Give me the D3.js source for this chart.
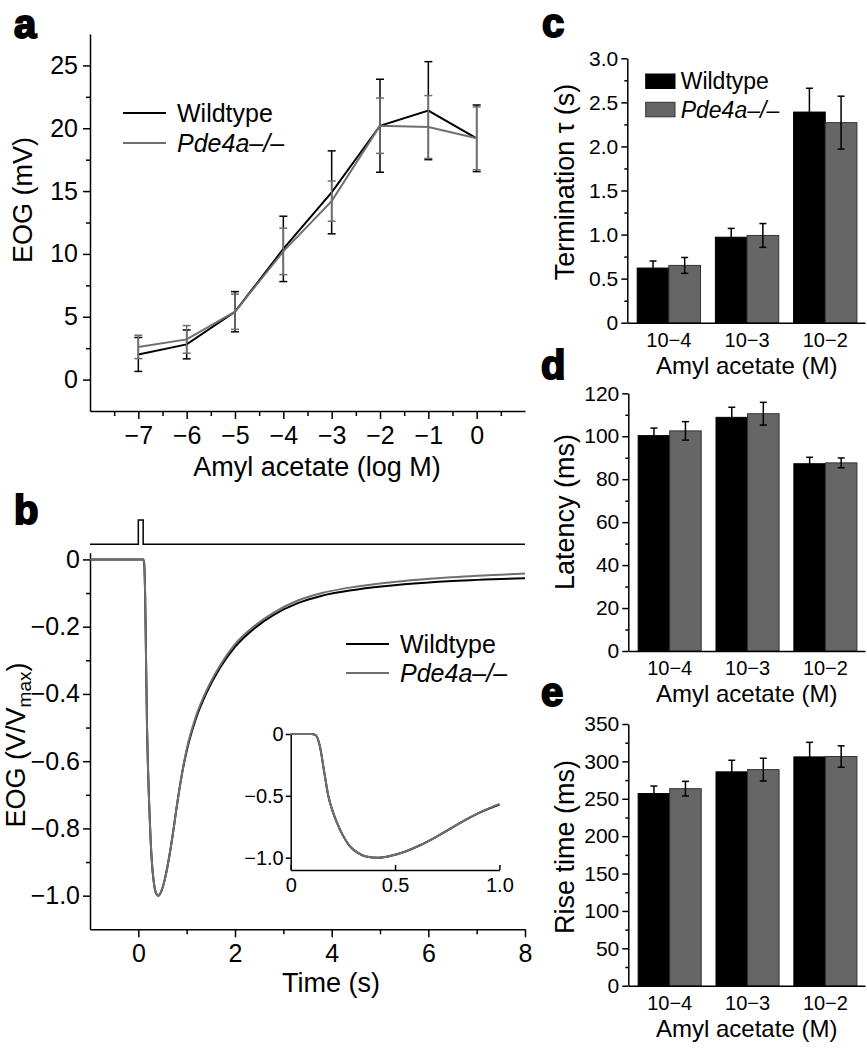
<!DOCTYPE html>
<html><head><meta charset="utf-8">
<script src="https://cdn.jsdelivr.net/npm/d3@7"></script>
<style>
body{margin:0;background:#fff;}
svg text{font-family:"Liberation Sans",Arial,Helvetica,sans-serif;fill:#000;}
</style></head><body>
<svg id="fig" width="867" height="1050"></svg>
<script>
// ---------- Panel a data ----------
const concLog = [-7, -6, -5, -4, -3, -2, -1, 0];
const eogWT = [2.0, 2.8, 5.4, 10.4, 14.9, 20.2, 21.4, 19.2];
const eogWTerr = [1.35, 1.15, 1.6, 2.6, 3.3, 3.7, 3.9, 2.65];
const eogKO = [2.6, 3.2, 5.4, 10.2, 14.2, 20.2, 20.1, 19.2];
const eogKOerr = [0.93, 1.1, 1.4, 1.85, 1.6, 2.2, 2.5, 2.5];
const aYTicks = [0, 5, 10, 15, 20, 25];
const aYMinor = [2.5, 7.5, 12.5, 17.5, 22.5];
const aXMinor = [-7.5, -6.5, -5.5, -4.5, -3.5, -2.5, -1.5, -0.5, 0.5];

// ---------- Panel b data ----------
const traceT  = [-1, 0, 0.1, 0.12, 0.14, 0.16, 0.18, 0.2, 0.22, 0.25, 0.28, 0.32, 0.36, 0.42, 0.48, 0.55, 0.62, 0.7, 0.8, 0.9, 1.0, 1.2, 1.4, 1.7, 2.0, 2.4, 2.8, 3.3, 3.8, 4.5, 5.5, 6.5, 8];
const traceWT = [0, 0, 0, -0.01, -0.1, -0.3, -0.5, -0.62, -0.71, -0.82, -0.9, -0.96, -0.99, -1.0, -0.985, -0.95, -0.9, -0.83, -0.73, -0.64, -0.57, -0.47, -0.40, -0.32, -0.26, -0.205, -0.165, -0.13, -0.108, -0.09, -0.074, -0.064, -0.056];
const traceKO = [0, 0, 0, -0.01, -0.1, -0.3, -0.5, -0.62, -0.71, -0.82, -0.9, -0.96, -0.99, -1.0, -0.985, -0.95, -0.9, -0.83, -0.73, -0.64, -0.565, -0.463, -0.393, -0.313, -0.252, -0.198, -0.158, -0.122, -0.1, -0.081, -0.064, -0.053, -0.042];
const stimT = [-1, 0, 0, 0.1, 0.1, 8];
const stimOn = [0, 0, 1, 1, 0, 0];
const bYTicks = [0, -0.2, -0.4, -0.6, -0.8, -1.0];
const bYMinor = [-0.1, -0.3, -0.5, -0.7, -0.9];
const bXTicks = [0, 2, 4, 6, 8];
const bXMinor = [1, 3, 5, 7];
const insetXTicks = [0, 0.5, 1.0];
const insetYTicks = [0, -0.5, -1.0];

// ---------- Panels c, d, e data ----------
const barCats = ["10\u22124", "10\u22123", "10\u22122"];
const tauWT = [0.62, 0.97, 2.39], tauWTerr = [0.08, 0.10, 0.27];
const tauKO = [0.65, 0.99, 2.27], tauKOerr = [0.09, 0.135, 0.30];
const latWT = [100.3, 108.8, 87.2], latWTerr = [3.5, 4.7, 3.0];
const latKO = [102.5, 110.5, 87.6], latKOerr = [4.3, 5.3, 2.3];
const riseWT = [257, 286, 306], riseWTerr = [10, 15.5, 19.5];
const riseKO = [263.5, 289, 306.5], riseKOerr = [9.8, 15.2, 14.3];
const seriesNames = ["Wildtype", "Pde4a\u2013/\u2013"];

// ---------- drawing ----------
const svg = d3.select("#fig");
svg.append("rect").attr("width", 867).attr("height", 1050).attr("fill", "#fff");
const BLACK = "#000", GREY = "#6f6f6f", BARGREY = "#666";

function styleAxis(g, fs) {
  g.selectAll("path.domain").attr("stroke", BLACK).attr("stroke-width", 1.5);
  g.selectAll(".tick line").attr("stroke", BLACK).attr("stroke-width", 1.5);
  g.selectAll(".tick text").attr("font-size", fs).attr("fill", BLACK)
    .style("font-family", '"Liberation Sans", Arial, Helvetica, sans-serif');
  return g;
}
function minor(g) { g.select("path.domain").remove(); g.selectAll(".tick line").attr("stroke", BLACK).attr("stroke-width", 1.5); }
function panelLabel(t, x, y) {
  svg.append("text").attr("x", x).attr("y", y).text(t)
    .attr("font-size", 40).attr("font-weight", "bold")
    .attr("stroke", BLACK).attr("stroke-width", 2);
}
function yTitle(t, cx, cy, fs) {
  return svg.append("text").attr("transform", `translate(${cx},${cy}) rotate(-90)`)
    .attr("text-anchor", "middle").attr("dy", "0.35em").attr("font-size", fs).text(t);
}
function xTitle(t, cx, cy, fs) {
  return svg.append("text").attr("x", cx).attr("y", cy).attr("text-anchor", "middle")
    .attr("dy", "0.35em").attr("font-size", fs).text(t);
}

// ===== Panel a =====
const ax = d3.scaleLinear().domain([-8, 1]).range([90, 525]);
const ay = d3.scaleLinear().domain([-2.5, 27.5]).range([411, 34]);
styleAxis(svg.append("g").attr("transform", "translate(90,0)")
  .call(d3.axisLeft(ay).tickValues(aYTicks).tickSize(7).tickPadding(5).tickSizeOuter(0)), 25);
minor(svg.append("g").attr("transform", "translate(90,0)")
  .call(d3.axisLeft(ay).tickValues(aYMinor).tickSize(4).tickFormat("")));
styleAxis(svg.append("g").attr("transform", "translate(0,411)")
  .call(d3.axisBottom(ax).tickValues(concLog).tickSize(8).tickPadding(7).tickSizeOuter(0).tickFormat(d3.format("d"))), 25);
minor(svg.append("g").attr("transform", "translate(0,411)")
  .call(d3.axisBottom(ax).tickValues(aXMinor).tickSize(5).tickFormat("")));

function drawSeriesA(vals, errs, color) {
  const g = svg.append("g");
  g.append("path").datum(concLog.map((c, i) => [c, vals[i]]))
    .attr("fill", "none").attr("stroke", color).attr("stroke-width", 2)
    .attr("d", d3.line().x(d => ax(d[0])).y(d => ay(d[1])));
  const idx = d3.range(concLog.length);
  g.selectAll("line.v").data(idx).join("line")
    .attr("x1", i => ax(concLog[i])).attr("x2", i => ax(concLog[i]))
    .attr("y1", i => ay(vals[i] + errs[i])).attr("y2", i => ay(vals[i] - errs[i]))
    .attr("stroke", color).attr("stroke-width", 1.5);
  [1, -1].forEach(s => {
    g.selectAll(null).data(idx).join("line")
      .attr("x1", i => ax(concLog[i]) - 4).attr("x2", i => ax(concLog[i]) + 4)
      .attr("y1", i => ay(vals[i] + s * errs[i])).attr("y2", i => ay(vals[i] + s * errs[i]))
      .attr("stroke", color).attr("stroke-width", 1.5);
  });
}
drawSeriesA(eogWT, eogWTerr, BLACK);
drawSeriesA(eogKO, eogKOerr, GREY);
// legend a
[[BLACK, 113], [GREY, 143]].forEach(([c, y], i) => {
  svg.append("line").attr("x1", 123).attr("x2", 166).attr("y1", y).attr("y2", y).attr("stroke", c).attr("stroke-width", 2);
  svg.append("text").attr("x", 177).attr("y", y).attr("dy", "0.35em").attr("font-size", 25)
    .attr("font-style", i ? "italic" : "normal").text(seriesNames[i]);
});
yTitle("EOG (mV)", 23, 200, 27);
xTitle("Amyl acetate (log M)", 317, 467, 27);
panelLabel("a", 14, 38);

// ===== Panel b =====
const bx = d3.scaleLinear().domain([-1, 8]).range([90, 525]);
const by = d3.scaleLinear().domain([-1.1, 0.02]).range([929.3, 552.7]);
styleAxis(svg.append("g").attr("transform", "translate(90,0)")
  .call(d3.axisLeft(by).tickValues(bYTicks).tickSize(7).tickPadding(3).tickSizeOuter(0)
    .tickFormat(d => d === 0 ? "0" : d3.format(".1f")(d))), 25);
minor(svg.append("g").attr("transform", "translate(90,0)")
  .call(d3.axisLeft(by).tickValues(bYMinor).tickSize(4).tickFormat("")));
styleAxis(svg.append("g").attr("transform", "translate(0,929.3)")
  .call(d3.axisBottom(bx).tickValues(bXTicks).tickSize(8).tickPadding(7).tickSizeOuter(0)), 25);
minor(svg.append("g").attr("transform", "translate(0,929.3)")
  .call(d3.axisBottom(bx).tickValues(bXMinor).tickSize(5).tickFormat("")));
// stimulus
const sy = d3.scaleLinear().domain([0, 1]).range([544.3, 520]);
svg.append("path").datum(stimT.map((t, i) => [t, stimOn[i]]))
  .attr("fill", "none").attr("stroke", BLACK).attr("stroke-width", 1.5)
  .attr("d", d3.line().x(d => bx(d[0])).y(d => sy(d[1])));
const mainLine = d3.line().x(d => bx(d[0])).y(d => by(d[1])).curve(d3.curveMonotoneX);
svg.append("path").datum(traceT.map((t, i) => [t, traceWT[i]]))
  .attr("fill", "none").attr("stroke", BLACK).attr("stroke-width", 2).attr("d", mainLine);
svg.append("path").datum(traceT.map((t, i) => [t, traceKO[i]]))
  .attr("fill", "none").attr("stroke", GREY).attr("stroke-width", 2).attr("d", mainLine);
// legend b
[[BLACK, 644], [GREY, 673]].forEach(([c, y], i) => {
  svg.append("line").attr("x1", 346).attr("x2", 389).attr("y1", y).attr("y2", y).attr("stroke", c).attr("stroke-width", 2);
  svg.append("text").attr("x", 400).attr("y", y).attr("dy", "0.35em").attr("font-size", 25)
    .attr("font-style", i ? "italic" : "normal").text(seriesNames[i]);
});
const bt = svg.append("text").attr("transform", "translate(16,745) rotate(-90)")
  .attr("text-anchor", "middle").attr("dy", "0.35em").attr("font-size", 27);
bt.append("tspan").text("EOG (V/V");
bt.append("tspan").attr("font-size", 19).attr("dy", "0.3em").text("max");
bt.append("tspan").attr("dy", "-0.2em").text(")");
xTitle("Time (s)", 331, 983, 27);
panelLabel("b", 14, 524);

// inset
const ix = d3.scaleLinear().domain([0, 1]).range([290.7, 499.4]);
const iy = d3.scaleLinear().domain([-1.1, 0]).range([870, 734]);
styleAxis(svg.append("g").attr("transform", "translate(290.7,0)")
  .call(d3.axisLeft(iy).tickValues(insetYTicks).tickSize(5).tickPadding(2).tickSizeOuter(0)
    .tickFormat(d => d === 0 ? "0" : d3.format(".1f")(d))), 20);
styleAxis(svg.append("g").attr("transform", "translate(0,870)")
  .call(d3.axisBottom(ix).tickValues(insetXTicks).tickSize(-5).tickPadding(8).tickSizeOuter(0)
    .tickFormat(d => d === 0 ? "0" : d3.format(".1f")(d))), 20);
const insetLine = d3.line().x(d => ix(d[0])).y(d => iy(d[1])).curve(d3.curveMonotoneX);
const inRange = (t) => t >= 0 && t <= 1;
svg.append("path").datum(traceT.map((t, i) => [t, traceWT[i]]).filter(d => inRange(d[0])))
  .attr("fill", "none").attr("stroke", BLACK).attr("stroke-width", 2).attr("d", insetLine);
svg.append("path").datum(traceT.map((t, i) => [t, traceKO[i]]).filter(d => inRange(d[0])))
  .attr("fill", "none").attr("stroke", GREY).attr("stroke-width", 2).attr("d", insetLine);

// ===== Bar panels =====
function barPanel(opt) {
  const x0 = d3.scaleBand().domain(barCats).range([opt.left, 865]).paddingInner(0.19).paddingOuter(0.115).align(0.55);
  const x1 = d3.scaleBand().domain([0, 1]).range([0, x0.bandwidth()]);
  const y = d3.scaleLinear().domain([0, opt.max]).range([opt.bottom, opt.top]);
  const vals = [opt.wt, opt.ko], errs = [opt.wtErr, opt.koErr];
  const g = svg.append("g");
  [0, 1].forEach(s => {
    g.selectAll(null).data(d3.range(barCats.length)).join("rect")
      .attr("x", i => x0(barCats[i]) + x1(s)).attr("width", x1.bandwidth())
      .attr("y", i => y(vals[s][i])).attr("height", i => y(0) - y(vals[s][i]))
      .attr("fill", s ? BARGREY : BLACK).attr("stroke", s ? "#333" : BLACK).attr("stroke-width", 1);
  });
  [0, 1].forEach(s => {
    const cx = i => x0(barCats[i]) + x1(s) + x1.bandwidth() / 2;
    g.selectAll(null).data(d3.range(barCats.length)).join("line")
      .attr("x1", cx).attr("x2", cx)
      .attr("y1", i => y(vals[s][i] + errs[s][i])).attr("y2", i => y(vals[s][i] - errs[s][i]))
      .attr("stroke", BLACK).attr("stroke-width", 1.5);
    [1, -1].forEach(k => {
      g.selectAll(null).data(d3.range(barCats.length)).join("line")
        .attr("x1", i => cx(i) - 3.5).attr("x2", i => cx(i) + 3.5)
        .attr("y1", i => y(vals[s][i] + k * errs[s][i])).attr("y2", i => y(vals[s][i] + k * errs[s][i]))
        .attr("stroke", BLACK).attr("stroke-width", 1.5);
    });
  });
  styleAxis(svg.append("g").attr("transform", `translate(${opt.left},0)`)
    .call(d3.axisLeft(y).tickValues(opt.ticks).tickSize(6).tickPadding(3).tickSizeOuter(0).tickFormat(opt.fmt)), 21);
  minor(svg.append("g").attr("transform", `translate(${opt.left},0)`)
    .call(d3.axisLeft(y).tickValues(opt.minor).tickSize(3).tickFormat("")));
  styleAxis(svg.append("g").attr("transform", `translate(0,${opt.bottom})`)
    .call(d3.axisBottom(x0).tickSize(0).tickPadding(10).tickSizeOuter(0)), 20);
  yTitle(opt.title, 565, opt.titleY, 27);
  xTitle("Amyl acetate (M)", 746.7, opt.bottom + 43, 24);
}
barPanel({left: 627.3, top: 58.3, bottom: 322.7, max: 3, wt: tauWT, ko: tauKO, wtErr: tauWTerr, koErr: tauKOerr,
  ticks: [0, 0.5, 1, 1.5, 2, 2.5, 3], minor: [0.25, 0.75, 1.25, 1.75, 2.25, 2.75],
  fmt: d => d === 0 ? "0" : d3.format(".1f")(d), title: "Termination \u03c4 (s)", titleY: 182});
barPanel({left: 628.3, top: 393.3, bottom: 651, max: 120, wt: latWT, ko: latKO, wtErr: latWTerr, koErr: latKOerr,
  ticks: [0, 20, 40, 60, 80, 100, 120], minor: [10, 30, 50, 70, 90, 110],
  fmt: d3.format("d"), title: "Latency (ms)", titleY: 512});
barPanel({left: 628.3, top: 724, bottom: 985.7, max: 350, wt: riseWT, ko: riseKO, wtErr: riseWTerr, koErr: riseKOerr,
  ticks: [0, 50, 100, 150, 200, 250, 300, 350], minor: [25, 75, 125, 175, 225, 275, 325],
  fmt: d3.format("d"), title: "Rise time (ms)", titleY: 847});
// legend c
[[BLACK, 74], [BARGREY, 102.3]].forEach(([c, y], i) => {
  svg.append("rect").attr("x", 645.7).attr("y", y).attr("width", 29.3).attr("height", 14.5)
    .attr("fill", c).attr("stroke", i ? "#333" : BLACK).attr("stroke-width", 1);
  svg.append("text").attr("x", 680.7).attr("y", y + 7.2).attr("dy", "0.35em").attr("font-size", 23)
    .attr("font-style", i ? "italic" : "normal").text(seriesNames[i]);
});
panelLabel("c", 542, 37);
panelLabel("d", 541, 379);
panelLabel("e", 541, 706);
</script></body></html>
